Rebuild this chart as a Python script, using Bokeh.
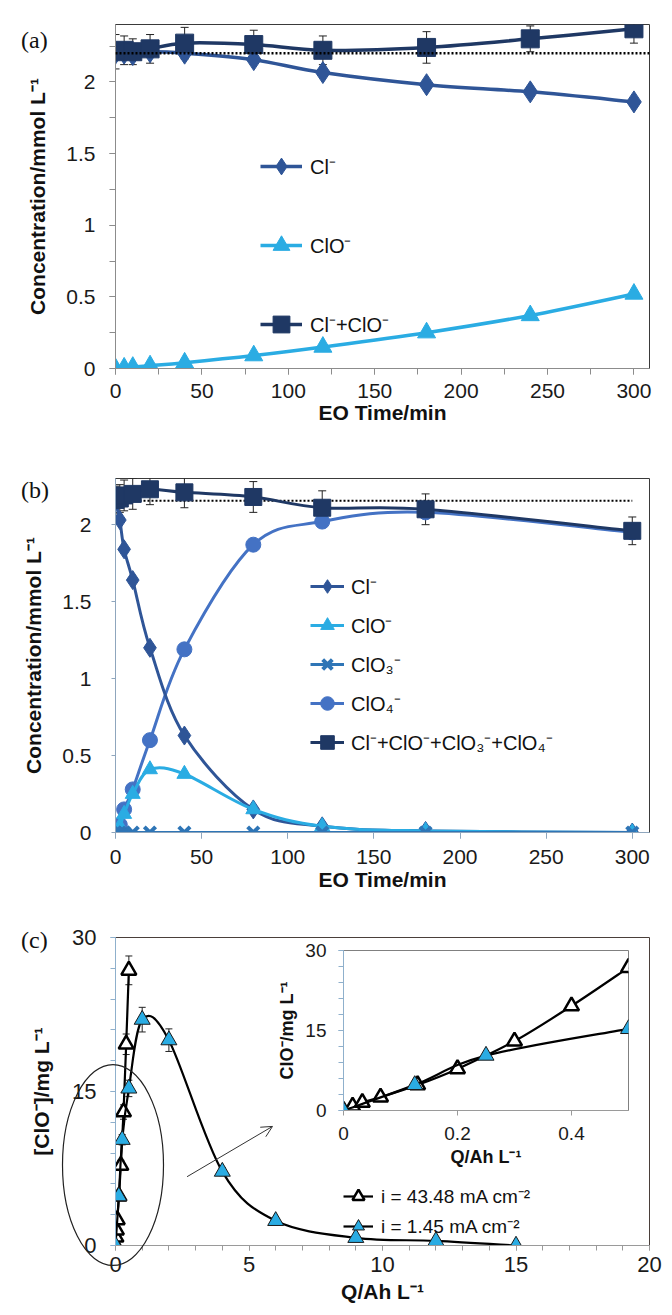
from bokeh.plotting import figure
from bokeh.models import (Range1d, SingleIntervalTicker, NumeralTickFormatter, Legend, LegendItem,
                          Whisker, TeeHead, ColumnDataSource, Span, Arrow, OpenHead, GridBox, Div)
from bokeh.embed import file_html
from bokeh.resources import INLINE

# ---------------- data: panel (a) ----------------
t_a = [0, 5, 10, 20, 40, 80, 120, 180, 240, 300]
cl_a = [2.20, 2.20, 2.19, 2.21, 2.20, 2.155, 2.065, 1.98, 1.93, 1.86]
clo_a = [0.0, 0.005, 0.01, 0.02, 0.04, 0.09, 0.15, 0.25, 0.37, 0.52]
sum_a = [2.21, 2.22, 2.21, 2.23, 2.27, 2.26, 2.22, 2.24, 2.30, 2.37]
sum_a_err = [0.12, 0.10, 0.09, 0.10, 0.11, 0.10, 0.10, 0.11, 0.09, 0.10]
ref_a = 2.2

# ---------------- data: panel (b) ----------------
t_b = [0, 2.5, 5, 10, 20, 40, 80, 120, 180, 300]
cl_b = [2.15, 2.03, 1.84, 1.64, 1.20, 0.63, 0.15, 0.04, 0.01, 0.0]
clo_b = [0.0, 0.04, 0.12, 0.25, 0.41, 0.38, 0.15, 0.04, 0.01, 0.0]
clo3_b = [0.0, 0.0, 0.0, 0.0, 0.0, 0.0, 0.0, 0.0, 0.0, 0.0]
clo4_b = [0.0, 0.05, 0.15, 0.28, 0.60, 1.19, 1.87, 2.02, 2.08, 1.95]
sum_b = [2.16, 2.17, 2.19, 2.20, 2.23, 2.21, 2.18, 2.11, 2.10, 1.96]
sum_b_err = [0.09, 0.09, 0.10, 0.10, 0.10, 0.10, 0.10, 0.11, 0.10, 0.09]
ref_b = 2.155

# ---------------- data: panel (c) ----------------
q_hi = [0, 0.016, 0.033, 0.065, 0.13, 0.2, 0.3, 0.4, 0.5]
c_hi = [0, 0.8, 1.5, 2.5, 4.8, 7.8, 13.0, 19.6, 26.8]
c_hi_err = [0, 0.1, 0.1, 0.2, 0.3, 0.5, 0.7, 1.0, 1.4]
q_lo = [0, 0.125, 0.25, 0.5, 1, 2, 4, 6, 9, 12, 15]
c_lo = [0, 4.8, 10.3, 15.3, 22.0, 20.0, 7.2, 2.4, 0.75, 0.45, 0.0]
c_lo_err = [0, 0.3, 0.5, 0.8, 1.2, 1.1, 0.4, 0.2, 0.1, 0.1, 0]
inset_q_max = 0.5

FONT = "Liberation Sans"
SERIF = "Liberation Serif"

NAVY = "#1f3864"
CLBLUE = "#2f5597"
LIGHT = "#2aace3"
XBLUE = "#2e75b6"
CIRC = "#4472c4"


def smooth(xs, ys):
    n = len(xs)
    out = dict(x0=[], y0=[], x1=[], y1=[], cx0=[], cy0=[], cx1=[], cy1=[])
    for i in range(n - 1):
        xa, ya = (xs[i - 1], ys[i - 1]) if i > 0 else (xs[i], ys[i])
        xb, yb = xs[i], ys[i]
        xc, yc = xs[i + 1], ys[i + 1]
        xd, yd = (xs[i + 2], ys[i + 2]) if i + 2 < n else (xc, yc)
        out["x0"].append(xb); out["y0"].append(yb)
        out["x1"].append(xc); out["y1"].append(yc)
        out["cx0"].append(xb + (xc - xa) / 6.0); out["cy0"].append(yb + (yc - ya) / 6.0)
        out["cx1"].append(xc - (xd - xb) / 6.0); out["cy1"].append(yc - (yd - yb) / 6.0)
    return out


def base_fig(w, h, xr, yr, ml, mr, mt, mb):
    p = figure(width=w, height=h, x_range=Range1d(*xr), y_range=Range1d(*yr),
               output_backend="svg", toolbar_location=None,
               min_border_left=ml, min_border_right=mr, min_border_top=mt, min_border_bottom=mb)
    p.xgrid.visible = False
    p.ygrid.visible = False
    p.background_fill_color = "white"
    p.border_fill_color = "white"
    return p


def style_axis(ax, interval, minor, label_size, title_size, color, standoff, title_standoff,
               tick_len=6, minor_len=6):
    ax.ticker = SingleIntervalTicker(interval=interval, num_minor_ticks=minor)
    ax.formatter = NumeralTickFormatter(format="0.[0]")
    ax.major_label_text_font = FONT
    ax.major_label_text_font_size = label_size
    ax.major_label_text_color = "#1a1a1a"
    ax.axis_label_text_font = FONT
    ax.axis_label_text_font_size = title_size
    ax.axis_label_text_font_style = "bold"
    ax.axis_label_text_color = "#111111"
    ax.axis_line_color = color
    ax.major_tick_line_color = color
    ax.minor_tick_line_color = color
    ax.major_tick_in = 0
    ax.major_tick_out = tick_len
    ax.minor_tick_in = 0
    ax.minor_tick_out = minor_len
    ax.major_label_standoff = standoff
    ax.axis_label_standoff = title_standoff


def add_smooth(p, xs, ys, color, width):
    return p.bezier(source=ColumnDataSource(smooth(xs, ys)), x0="x0", y0="y0", x1="x1", y1="y1",
                    cx0="cx0", cy0="cy0", cx1="cx1", cy1="cy1", line_color=color, line_width=width)


def add_err(p, xs, ys, errs, size=8, color="#222222"):
    keep = [(x, y, e) for x, y, e in zip(xs, ys, errs) if e > 0]
    src = ColumnDataSource(dict(x=[k[0] for k in keep], lo=[k[1] - k[2] for k in keep],
                                hi=[k[1] + k[2] for k in keep]))
    w = Whisker(source=src, base="x", lower="lo", upper="hi", dimension="height",
                line_color=color, line_width=1,
                upper_head=TeeHead(size=size, line_color=color, line_width=1),
                lower_head=TeeHead(size=size, line_color=color, line_width=1))
    p.add_layout(w)


def make_legend(items, loc, gw, gh, spacing, font_size, standoff):
    return Legend(items=items, location=loc, orientation="vertical",
                  glyph_width=gw, glyph_height=gh, spacing=spacing, padding=0, margin=0,
                  label_text_font=FONT, label_text_font_size=font_size, label_standoff=standoff,
                  label_height=gh, border_line_alpha=0, background_fill_alpha=0,
                  label_text_color="#111111")


def tag(text):
    return Div(text=('<div style="font-family:\'Liberation Serif\',serif;font-size:24px;'
                     'line-height:28px;color:#111111;white-space:nowrap;">%s</div>' % text),
               width=60, height=28, margin=(0, 0, 0, 0))


# ================= panel (a) =================
p_a = base_fig(672, 440, (0, 309), (0, 2.4), 105, 3, 24, 72)
p_a.outline_line_color = "#3a3a3a"
style_axis(p_a.xaxis[0], 50, 2, "21px", "21px", "#8c8c8c", 9, 0)
style_axis(p_a.yaxis[0], 0.5, 2, "21px", "21px", "#8c8c8c", 14, 14)
p_a.xaxis.axis_label = "EO Time/min"
p_a.yaxis.axis_label = "Concentration/mmol L\u207b\u00b9"

p_a.add_layout(Span(location=ref_a, dimension="width", line_color="black",
                    line_width=2.5, line_dash="2 2"))
add_err(p_a, t_a, sum_a, sum_a_err)
la_clo = add_smooth(p_a, t_a, clo_a, LIGHT, 3.5)
sa_clo = p_a.scatter(t_a, clo_a, marker="triangle", size=18, fill_color=LIGHT, line_color=LIGHT)
la_cl = add_smooth(p_a, t_a, cl_a, CLBLUE, 3.5)
sa_cl = p_a.scatter(t_a, cl_a, marker="diamond", size=22, fill_color=CLBLUE, line_color=CLBLUE)
la_sum = add_smooth(p_a, t_a, sum_a, NAVY, 3.5)
sa_sum = p_a.scatter(t_a, sum_a, marker="square", size=18, fill_color=NAVY, line_color=NAVY)

p_a.add_layout(make_legend([
    LegendItem(label="Cl\u207b", renderers=[la_cl, sa_cl]),
    LegendItem(label="ClO\u207b", renderers=[la_clo, sa_clo]),
    LegendItem(label="Cl\u207b+ClO\u207b", renderers=[la_sum, sa_sum]),
], (145, 23), 42, 42, 37, "20px", 8))

# ================= panel (b) =================
p_b = base_fig(672, 465, (0, 310), (0, 2.3), 115, 3, 38, 73)
p_b.outline_line_color = "#3a3a3a"
style_axis(p_b.xaxis[0], 50, 1, "21px", "21px", "#8fa6bd", 11, 1)
style_axis(p_b.yaxis[0], 0.5, 1, "21px", "21px", "#8fa6bd", 20, 14, tick_len=4, minor_len=0)
p_b.xaxis.axis_label = "EO Time/min"
p_b.yaxis.axis_label = "Concentration/mmol L\u207b\u00b9"

p_b.line([t_b[0], t_b[-1]], [ref_b, ref_b], line_color="black", line_width=2, line_dash="2 2")
add_err(p_b, t_b, sum_b, sum_b_err)
lb_c4 = add_smooth(p_b, t_b, clo4_b, CIRC, 3)
sb_c4 = p_b.scatter(t_b, clo4_b, marker="circle", size=15, fill_color=CIRC, line_color=CIRC)
lb_cl = add_smooth(p_b, t_b, cl_b, CLBLUE, 3)
sb_cl = p_b.scatter(t_b, cl_b, marker="diamond", size=19, fill_color=CLBLUE, line_color=CLBLUE)
lb_clo = add_smooth(p_b, t_b, clo_b, LIGHT, 3)
sb_clo = p_b.scatter(t_b, clo_b, marker="triangle", size=15, fill_color=LIGHT, line_color=LIGHT)
lb_c3 = p_b.line(t_b, clo3_b, line_color=XBLUE, line_width=3)
sb_c3 = p_b.scatter(t_b, clo3_b, marker="x", size=16, line_color=XBLUE, line_width=4)
lb_sum = add_smooth(p_b, t_b, sum_b, NAVY, 3)
sb_sum = p_b.scatter(t_b, sum_b, marker="square", size=17, fill_color=NAVY, line_color=NAVY)

p_b.add_layout(make_legend([
    LegendItem(label="Cl\u207b", renderers=[lb_cl, sb_cl]),
    LegendItem(label="ClO\u207b", renderers=[lb_clo, sb_clo]),
    LegendItem(label="ClO\u2083\u207b", renderers=[lb_c3, sb_c3]),
    LegendItem(label="ClO\u2084\u207b", renderers=[lb_c4, sb_c4]),
    LegendItem(label="Cl\u207b+ClO\u207b+ClO\u2083\u207b+ClO\u2084\u207b", renderers=[lb_sum, sb_sum]),
], (195, 73), 34, 34, 5, "20px", 7))

# ================= panel (c) =================
p_c = base_fig(672, 410, (0, 20), (0, 30), 105, 23, 32, 70)
p_c.outline_line_color = "#4a3f3a"
style_axis(p_c.xaxis[0], 5, 5, "22px", "21px", "#9a9a9a", 6, 5, tick_len=5, minor_len=5)
style_axis(p_c.yaxis[0], 15, 5, "22px", "21px", "#8fb0cc", 14, 16, tick_len=5, minor_len=5)
p_c.xaxis.axis_label = "Q/Ah L\u207b\u00b9"
p_c.yaxis.axis_label = "[ClO\u207b]/mg L\u207b\u00b9"

add_err(p_c, q_hi, c_hi, c_hi_err, size=7)
add_err(p_c, q_lo, c_lo, c_lo_err, size=7)
lc_hi = add_smooth(p_c, q_hi, c_hi, "black", 2.2)
sc_hi = p_c.scatter(q_hi, c_hi, marker="triangle", size=15, fill_color="white",
                    line_color="black", line_width=2.5)
lc_lo = add_smooth(p_c, q_lo, c_lo, "black", 2.2)
sc_lo = p_c.scatter(q_lo, c_lo, marker="triangle", size=16, fill_color=LIGHT,
                    line_color="#1a1a1a", line_width=1)

p_c.add_layout(Arrow(x_start=2.68, y_start=6.7, x_end=5.88, y_end=11.6,
                     line_color="#333333", line_width=1,
                     end=OpenHead(size=11, line_color="#333333", line_width=1)))

p_c.add_layout(make_legend([
    LegendItem(label="i = 43.48 mA cm\u207b\u00b2", renderers=[lc_hi, sc_hi]),
    LegendItem(label="i = 1.45 mA cm\u207b\u00b2", renderers=[lc_lo, sc_lo]),
], (228, 4), 30, 30, 0, "19px", 8))

# ================= inset =================
p_in = base_fig(375, 254, (0, inset_q_max), (0, 30), 78, 12, 24, 70)
p_in.border_fill_alpha = 0
p_in.outline_line_color = "#808080"
style_axis(p_in.xaxis[0], 0.2, 2, "19px", "18px", "#9a9a9a", 11, 4, tick_len=5, minor_len=0)
style_axis(p_in.yaxis[0], 15, 5, "19px", "18px", "#8fb0cc", 12, 5, tick_len=5, minor_len=5)
p_in.xaxis.axis_label = "Q/Ah L\u207b\u00b9"
p_in.yaxis.axis_label = "ClO\u207b/mg L\u207b\u00b9"

n_lo_in = sum(1 for q in q_lo if q <= inset_q_max)
add_smooth(p_in, q_hi, c_hi, "black", 2.2)
p_in.scatter(q_hi, c_hi, marker="triangle", size=15, fill_color="white",
             line_color="black", line_width=2.5)
add_smooth(p_in, q_lo[:n_lo_in], c_lo[:n_lo_in], "black", 2.2)
p_in.scatter(q_lo[:n_lo_in], c_lo[:n_lo_in], marker="triangle", size=16, fill_color=LIGHT,
             line_color="#1a1a1a", line_width=1)

# ================= ellipse overlay (highlights the low-charge region) =================
p_el = figure(width=111, height=211, x_range=Range1d(0, 1), y_range=Range1d(0, 1),
              output_backend="svg", toolbar_location=None, min_border=0,
              x_axis_location=None, y_axis_location=None)
p_el.xgrid.visible = False
p_el.ygrid.visible = False
p_el.outline_line_color = None
p_el.background_fill_alpha = 0
p_el.border_fill_alpha = 0
p_el.ellipse(x=[0.5], y=[0.5], width=[101], height=[201], width_units="screen",
             height_units="screen", fill_alpha=0, line_color="#222222", line_width=1.2)

grid = GridBox(
    children=[(p_a, 0, 0, 3, 6), (p_b, 3, 0, 3, 6), (p_c, 6, 0, 6, 6),
              (p_in, 7, 4, 3, 1), (p_el, 9, 2, 2, 1),
              (tag("(a)"), 1, 1, 1, 2), (tag("(b)"), 4, 1, 1, 2), (tag("(c)"), 7, 1, 1, 2)],
    rows=["26px", "28px", "386px", "36px", "28px", "401px", "21px", "28px", "105px",
          "121px", "90px", "45px"],
    cols=["21px", "36px", "111px", "97px", "375px", "32px"])

open("out.html", "w").write(file_html(grid, INLINE))
